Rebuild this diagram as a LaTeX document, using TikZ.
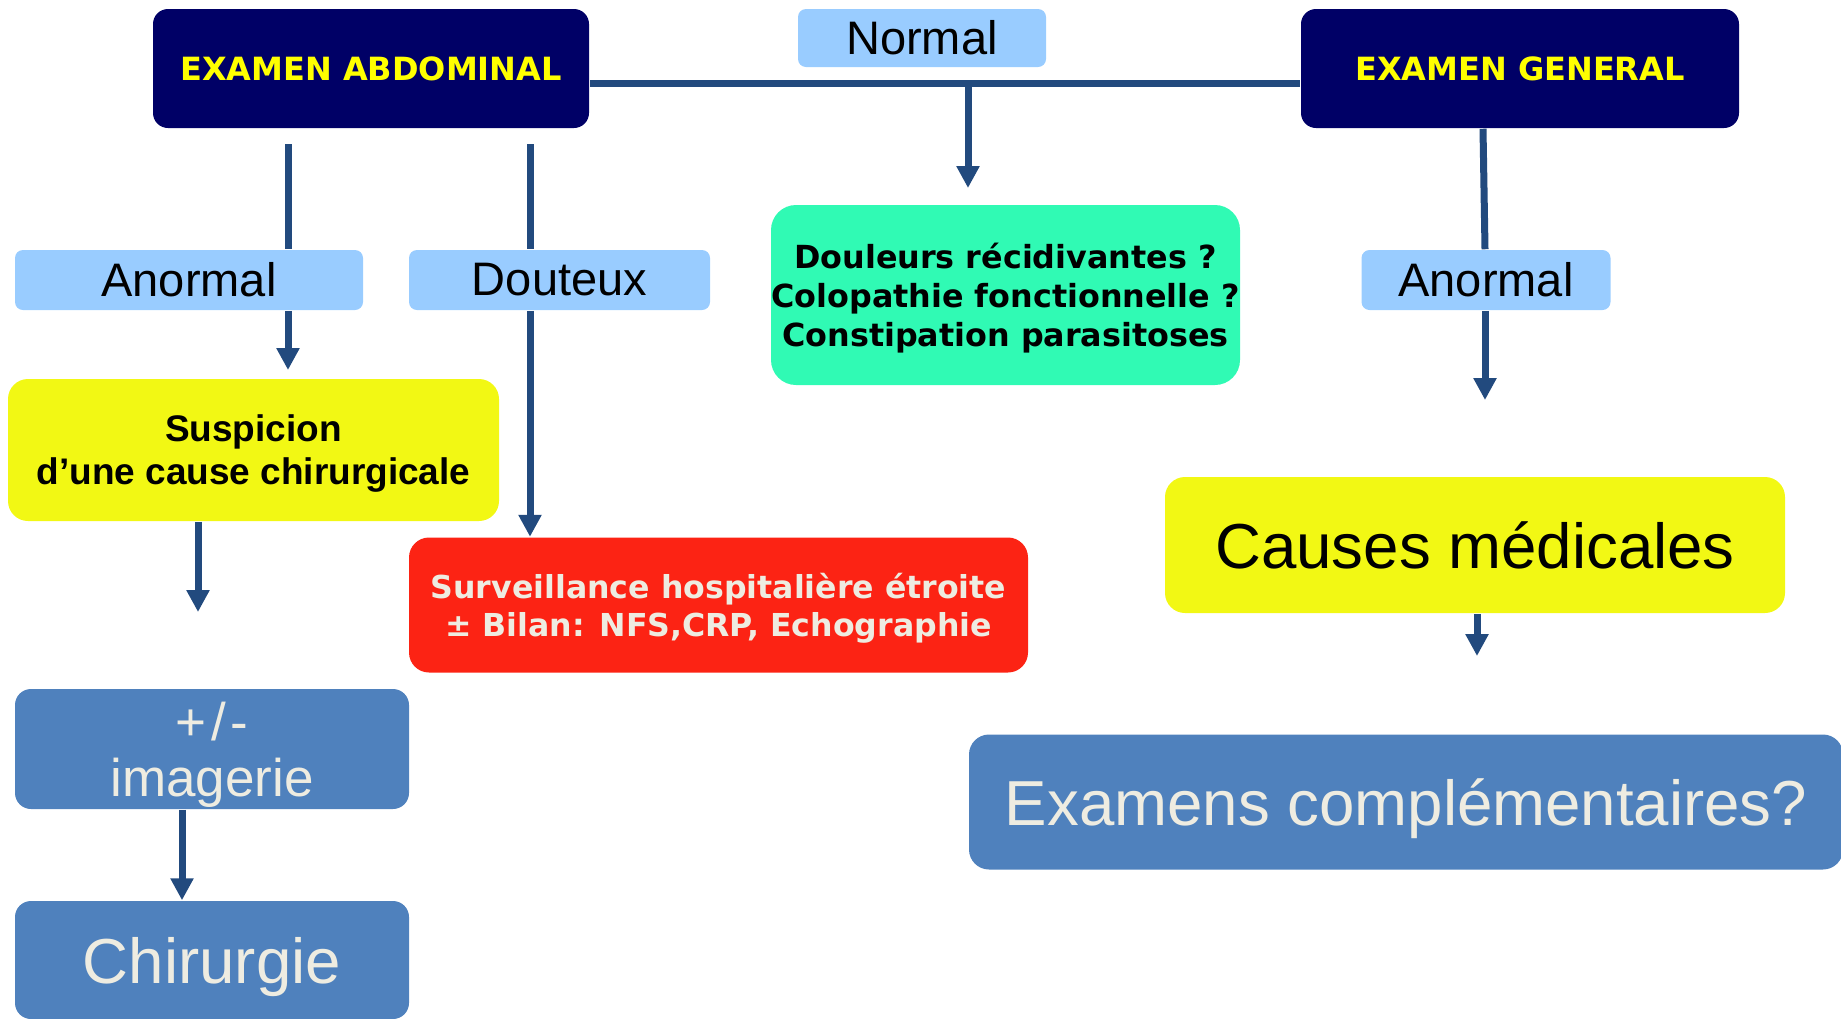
\documentclass[tikz,border=0pt]{standalone}
\usepackage{fontspec}
\setmainfont{Liberation Sans}
\newfontfamily\vfont{DejaVu Sans}
\usetikzlibrary{arrows.meta}

\definecolor{navybox}{RGB}{0,0,102}
\definecolor{headtxt}{RGB}{255,255,0}
\definecolor{tagblue}{RGB}{153,204,255}
\definecolor{greenbox}{RGB}{48,250,180}
\definecolor{yellowbox}{RGB}{242,248,20}
\definecolor{redbox}{RGB}{252,35,20}
\definecolor{bluebox}{RGB}{79,129,189}
\definecolor{creamtxt}{RGB}{238,236,225}
\definecolor{linkblue}{RGB}{34,74,126}

\tikzset{every picture/.style={line width=0.75pt}}
\tikzset{
  box/.style={rectangle, inner sep=0pt, align=center},
  headbox/.style={box, rounded corners=7.5pt, fill=navybox, text=headtxt,
    font=\vfont\bfseries\fontsize{16}{19}\selectfont},
  tagbox/.style={box, rounded corners=4pt, fill=tagblue,
    font=\fontsize{23.5}{28}\selectfont},
  bigfont/.style={font=\fontsize{31.8}{36}\selectfont, text depth=0pt},
  link/.style={draw=linkblue, line width=3.5pt},
  arr/.style={link, -{Triangle[width=11pt,length=11pt]}}
}

\begin{document}
\begin{tikzpicture}[x=0.5pt,y=0.5pt,yscale=-1,xscale=1]
  \useasboundingbox (0,0) rectangle (1841,1018);

  %Top row
  \node[headbox, minimum width=218pt, minimum height=59.5pt] (abd) at (371,68.5) {EXAMEN ABDOMINAL};
  \node[tagbox, minimum width=124pt, minimum height=29pt] (normal) at (922,38) {Normal};
  \node[headbox, minimum width=219pt, minimum height=59.5pt] (gen) at (1520,68.5) {EXAMEN GENERAL};

  %Labels
  \node[tagbox, minimum width=174pt, minimum height=30pt] (anorm1) at (189,280) {Anormal};
  \node[tagbox, minimum width=150.5pt, minimum height=30pt] (dout) at (559.5,280) {Douteux};
  \node[tagbox, minimum width=124.5pt, minimum height=30pt] (anorm2) at (1486,280) {Anormal};

  %Green box
  \node[box, rounded corners=12.5pt, fill=greenbox, minimum width=234.5pt, minimum height=90pt, text depth=0pt,
    font=\vfont\bfseries\fontsize{15.9}{19.4}\selectfont] (vert) at (1005.5,295)
    {Douleurs récidivantes ?\\Colopathie fonctionnelle ?\\Constipation parasitoses};

  %Yellow boxes
  \node[box, rounded corners=10pt, fill=yellowbox, minimum width=245.5pt, minimum height=71pt, text depth=0pt,
    font=\bfseries\fontsize{18.5}{21.5}\selectfont] (susp) at (253.5,450)
    {Suspicion\\d’une cause chirurgicale};
  \node[box, bigfont, rounded corners=10pt, fill=yellowbox, minimum width=310pt, minimum height=68pt] (causes) at (1475,545) {Causes médicales};

  %Red box
  \node[box, rounded corners=10pt, fill=redbox, text=creamtxt, minimum width=309.5pt, minimum height=67.5pt, text depth=0pt,
    font=\vfont\bfseries\fontsize{15.8}{19}\selectfont] (surv) at (718.5,605)
    {Surveillance hospitalière étroite\\± Bilan: NFS,CRP, Echographie};

  %Blue boxes
  \node[box, rounded corners=8pt, fill=bluebox, text=creamtxt, minimum width=197pt, minimum height=60pt,
    text depth=0pt, font=\fontsize{26.5}{28}\selectfont] (imag) at (212,749) {+\kern2.5pt/\kern2.5pt-\\imagerie};
  \node[box, bigfont, rounded corners=8pt, fill=bluebox, text=creamtxt, minimum width=197pt, minimum height=59pt] (chir) at (212,960) {Chirurgie};
  \node[box, bigfont, rounded corners=10pt, fill=bluebox, text=creamtxt, minimum width=437pt, minimum height=67.5pt] (exam) at (1406,802) {Examens complémentaires?};

  %Free ends
  \coordinate (bn) at (968,83);
  \coordinate (bnE) at (968,188);
  \coordinate (a1) at (288,144);
  \coordinate (a1E) at (288,370);
  \coordinate (d1) at (530,144);
  \coordinate (s1E) at (198,612);
  \coordinate (a2E) at (1485,400);
  \coordinate (c1E) at (1477,656);

  %Connectors
  \draw[link] ([yshift=7.25pt]abd.east) -- ([yshift=7.25pt]gen.west);
  \draw[arr] (bn) -- (bnE);
  \draw[link] (a1) -- (a1 |- anorm1.north);
  \draw[arr] (a1 |- anorm1.south) -- (a1E);
  \draw[link] (d1) -- (d1 |- dout.north);
  \draw[arr] (d1 |- dout.south) -- (d1 |- surv.north);
  \draw[arr] (s1E |- susp.south) -- (s1E);
  \draw[arr] ([xshift=-15pt]imag.south) -- ([xshift=-15pt]chir.north);
  \draw[link] ([xshift=-18.5pt]gen.south) -- ([xshift=-0.5pt]anorm2.north);
  \draw[arr] ([xshift=-0.5pt]anorm2.south) -- (a2E);
  \draw[arr] ([xshift=1pt]causes.south) -- (c1E);
\end{tikzpicture}
\end{document}
